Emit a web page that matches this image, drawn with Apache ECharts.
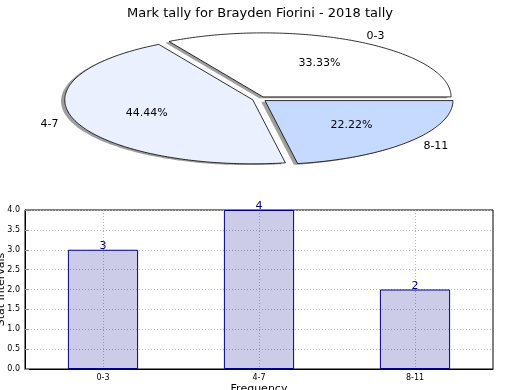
<!DOCTYPE html>
<html><head><meta charset="utf-8">
<script src="https://cdn.jsdelivr.net/npm/echarts@6/dist/echarts.min.js"></script>
<style>html,body{margin:0;padding:0;background:#fff}#c{width:520px;height:390px}</style>
</head><body><div id="c"></div>
<script>
// ---- data ----
const titleText = 'Mark tally for Brayden Fiorini - 2018 tally';
const categories = ['0-3', '4-7', '8-11'];
const values = [3, 4, 2];
const yAxisName = 'Stat Intervals';
const xAxisName = 'Frequency';

// ---- layout / style ----
const FONT = 'DejaVu Sans';
const pieColors = ['#ffffff', '#eaf0fe', '#c6d9fe'];
const PIE = { cx: 259.5, cy: 99, rx: 188, ry: 64, explode: 0.038, labelDist: 1.1, pctDist: 0.6, shadow: 0.02 };
const total = values.reduce((a, b) => a + b, 0);

function renderSlice(params, api) {
  const i = params.dataIndex;
  const v = api.value(1);
  let before = 0;
  for (let k = 0; k < i; k++) before += values[k];
  const t1 = before / total * 2 * Math.PI;
  const t2 = (before + v) / total * 2 * Math.PI;
  const tm = (t1 + t2) / 2;
  const ox = PIE.cx + PIE.explode * PIE.rx * Math.cos(tm);
  const oy = PIE.cy - PIE.explode * PIE.ry * Math.sin(tm);
  const pts = [[ox, oy]];
  const n = Math.max(8, Math.ceil((t2 - t1) / (Math.PI / 180)));
  for (let j = 0; j <= n; j++) {
    const t = t1 + (t2 - t1) * j / n;
    pts.push([ox + PIE.rx * Math.cos(t), oy - PIE.ry * Math.sin(t)]);
  }
  const sh = pts.map(p => [p[0] - PIE.shadow * PIE.rx, p[1] + PIE.shadow * PIE.ry]);
  const c = Math.cos(tm), s = Math.sin(tm);
  const lx = ox + PIE.labelDist * PIE.rx * c, ly = oy - PIE.labelDist * PIE.ry * s;
  const px = ox + PIE.pctDist * PIE.rx * c, py = oy - PIE.pctDist * PIE.ry * s;
  const pct = (v / total * 100).toFixed(2) + '%';
  return {
    type: 'group',
    children: [
      { type: 'polygon', z2: i * 2, shape: { points: sh }, style: { fill: 'rgba(40,40,40,0.45)' } },
      { type: 'polygon', z2: i * 2 + 1, shape: { points: pts }, style: { fill: pieColors[i], stroke: '#000', lineWidth: 0.8 } },
      { type: 'text', z2: 20, style: { text: categories[i], x: lx, y: ly, align: c > 0 ? 'left' : 'right', verticalAlign: 'middle', fontSize: 11, fontFamily: FONT, fill: '#000' } },
      { type: 'text', z2: 20, style: { text: pct, x: px, y: py, align: 'center', verticalAlign: 'middle', fontSize: 11, fontFamily: FONT, fill: '#000' } }
    ]
  };
}

const dotted = { type: [1, 2], color: '#b8b8b8', width: 1 };

const chart = echarts.init(document.getElementById('c'), null, { renderer: 'canvas' });
chart.setOption({
  animation: false,
  backgroundColor: '#fff',
  textStyle: { fontFamily: FONT },
  title: { text: titleText, left: 'center', top: 2, textStyle: { fontSize: 13, fontWeight: 'normal', color: '#000', fontFamily: FONT } },
  grid: { left: 25, right: 27, top: 210, bottom: 21, show: true, borderColor: '#000', borderWidth: 1, containLabel: false, outerBoundsMode: 'none' },
  xAxis: {
    type: 'category', data: categories,
    name: xAxisName, nameLocation: 'middle', nameGap: 15, nameMoveOverlap: false,
    nameTextStyle: { fontSize: 11, color: '#000', fontFamily: FONT },
    axisLine: { lineStyle: { color: '#000' } },
    axisTick: { alignWithLabel: true, inside: true, length: 4, lineStyle: { color: '#888' } },
    axisLabel: { fontSize: 8, color: '#000', margin: 5, fontFamily: FONT },
    splitLine: { show: true, alignWithLabel: true, lineStyle: dotted }
  },
  yAxis: {
    type: 'value', min: 0, max: 4, interval: 0.5,
    name: yAxisName, nameLocation: 'middle', nameGap: 18, nameRotate: 90, nameMoveOverlap: false,
    nameTextStyle: { fontSize: 11, color: '#000', fontFamily: FONT },
    axisLine: { show: true, lineStyle: { color: '#000' } },
    axisTick: { show: true, inside: true, length: 4, lineStyle: { color: '#888' } },
    axisLabel: { fontSize: 8, color: '#000', margin: 5, fontFamily: FONT, formatter: v => v.toFixed(1) },
    splitLine: { show: true, lineStyle: dotted }
  },
  series: [
    {
      type: 'custom', coordinateSystem: 'none', renderItem: renderSlice,
      data: categories.map((c, i) => [i, values[i]]), silent: true
    },
    {
      type: 'bar', data: values, barWidth: '45%',
      itemStyle: { color: 'rgba(0,0,139,0.2)', borderColor: '#00008b', borderWidth: 1 },
      label: { show: true, position: 'top', distance: -2, fontSize: 11, color: '#00008b', fontFamily: FONT }
    }
  ]
});
</script></body></html>
